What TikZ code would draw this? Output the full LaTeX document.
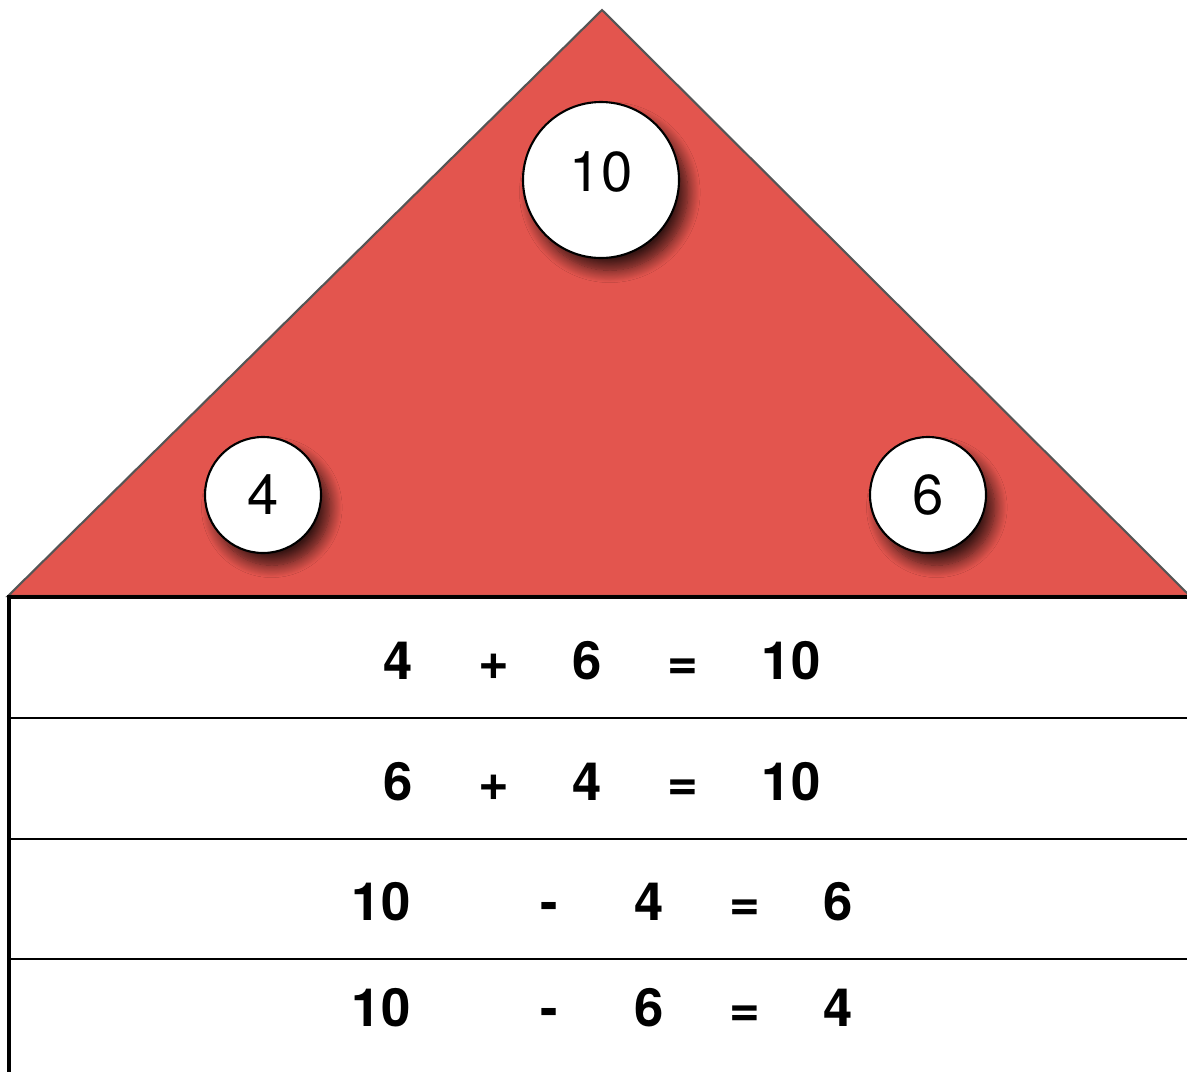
\documentclass[tikz,border=0pt]{standalone}
\usepackage{fontspec}
\setmainfont{TeX Gyre Heros}
\usetikzlibrary{positioning,shadows.blur}
\definecolor{roofred}{HTML}{E3554E}
\definecolor{roofline}{HTML}{555555}
\tikzset{
  roof/.style={fill=roofred, draw=roofline, line width=1.2pt},
  numball/.style={circle, draw=black, fill=white, line width=1.2pt,
    inner sep=0pt, font=\fontsize{32}{32}\selectfont,
    blur shadow={shadow xshift=5pt, shadow yshift=-7pt, shadow blur radius=7pt,
      shadow blur steps=14, shadow opacity=75}},
  rowline/.style={draw=black, line width=1.1pt},
  frameline/.style={draw=black, line width=1.8pt},
  eqtok/.style={font=\fontsize{30}{30}\selectfont\bfseries, inner sep=0pt,
    anchor=base},
}
\begin{document}
\begin{tikzpicture}[x=0.02cm,y=-0.02cm]
  \useasboundingbox (0,0) rectangle (1187,1072);
  % roof
  \path[roof] (8,596) -- (602,10) -- (1190,596) -- cycle;
  % number balls
  \node[numball, minimum size=156*0.02cm] (top) at (601,180) {\raisebox{10pt}{10}};
  \node[numball, minimum size=116*0.02cm] (left) at (263,495) {4};
  \node[numball, minimum size=116*0.02cm] (right) at (928,495) {6};
  % fact table
  \draw[frameline] (9,1072) -- (9,597) -- (1187,597);
  \foreach \y in {718,839,959}
    \draw[rowline] (9,\y) -- (1187,\y);
  % addition rows (base line of each row)
  \foreach \r/\y/\a/\b in {1/679/4/6, 2/800/6/4} {
    \node[eqtok] (a\r) at (398,\y) {\a};
    \node[eqtok] (p\r) at (494,\y) {+};
    \node[eqtok] (b\r) at (587,\y) {\b};
    \node[eqtok] (q\r) at (683,\y) {=};
    \node[eqtok] (s\r) at (791,\y) {10};
  }
  % subtraction rows
  \foreach \r/\y/\a/\b in {3/920/4/6, 4/1026/6/4} {
    \node[eqtok] (a\r) at (381,\y) {10};
    \node[eqtok] (p\r) at (549,\y) {-};
    \node[eqtok] (b\r) at (649,\y) {\a};
    \node[eqtok] (q\r) at (745,\y) {=};
    \node[eqtok] (s\r) at (838,\y) {\b};
  }
\end{tikzpicture}
\end{document}
